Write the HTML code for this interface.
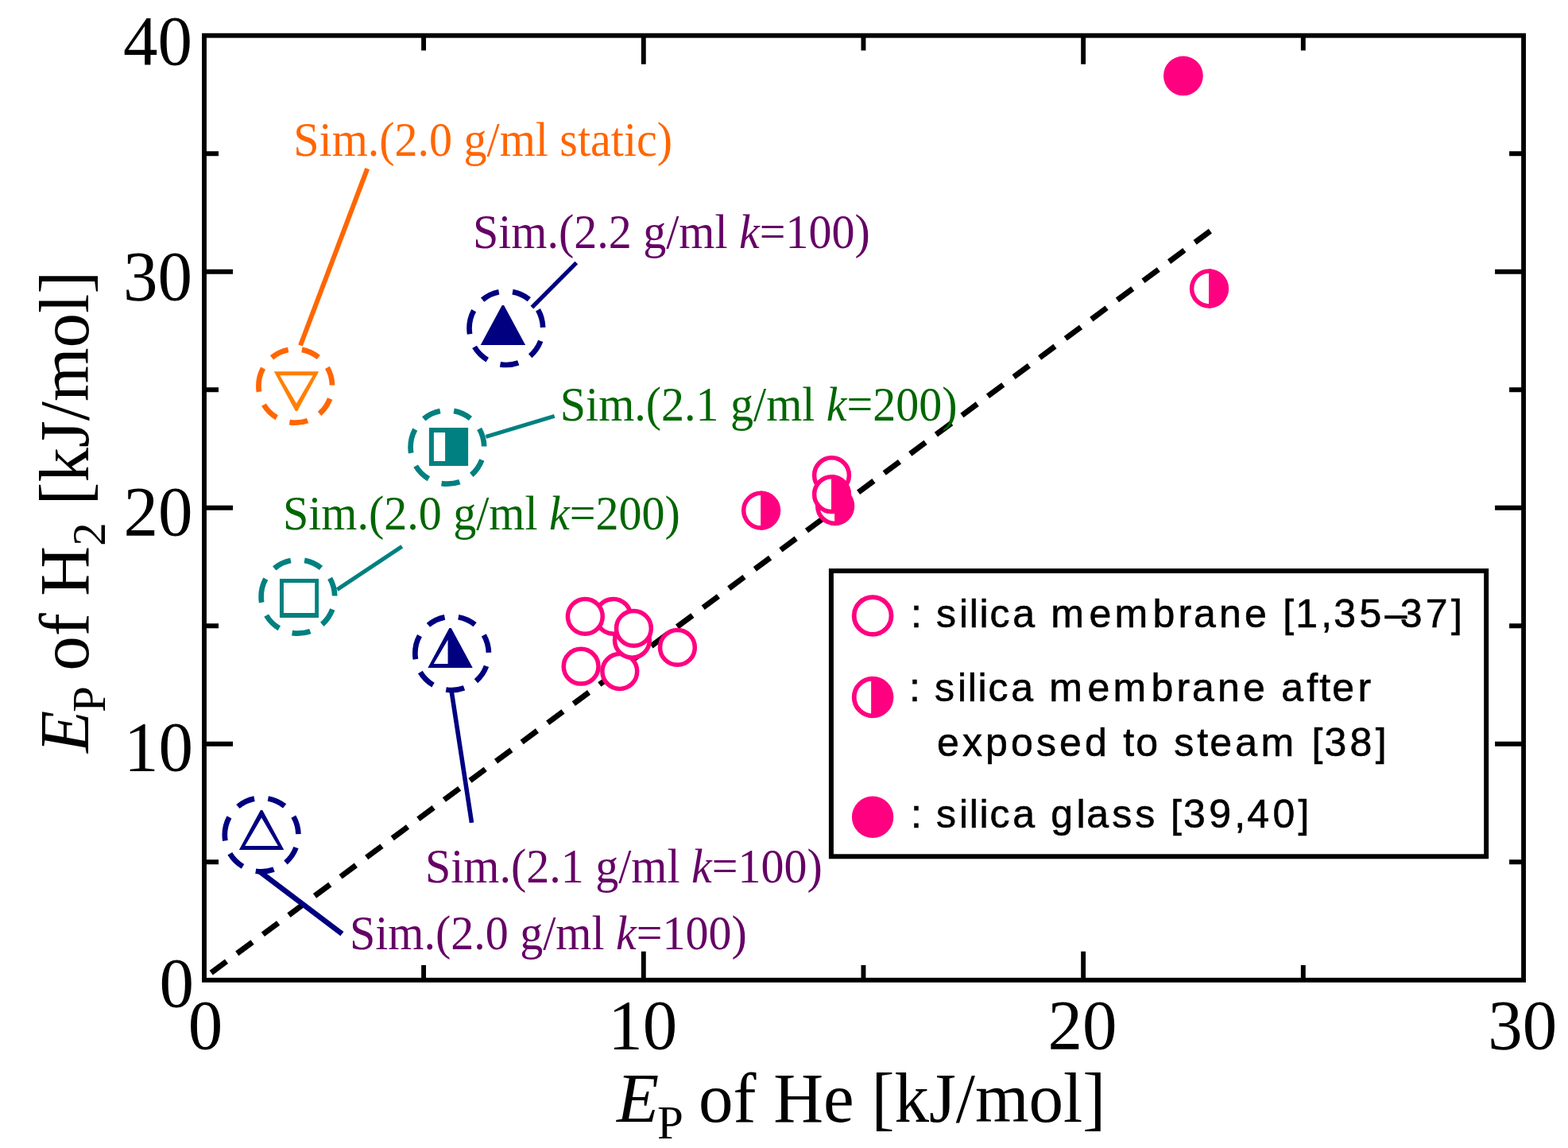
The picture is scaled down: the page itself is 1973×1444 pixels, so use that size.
<!DOCTYPE html>
<html lang="en"><head><meta charset="utf-8"><title>Ep of H2 vs Ep of He</title>
<style>
html,body{margin:0;padding:0;background:#fff;}
body{width:1973px;height:1444px;overflow:hidden;}
svg{display:block;}
text{font-family:"Liberation Serif", "Times New Roman", serif;}
.tick{font-size:87px;fill:#000;}
.sub{font-size:59px;}
.ann{font-size:58px;}
.it{font-style:italic;}
.leg{font-family:"Liberation Sans",Arial,sans-serif;font-size:50px;fill:#000;stroke:#000;stroke-width:0.6px;}
</style></head><body>
<svg width="1973" height="1444" viewBox="0 0 1973 1444">
<rect width="1973" height="1444" fill="#fff"/>
<line x1="265.7" y1="1223.6" x2="1522.9" y2="290.6" stroke="#000" stroke-width="7" stroke-dasharray="24 16.568"/>
<rect x="257.0" y="44.7" width="1660.10" height="1188.10" fill="none" stroke="#000" stroke-width="5.9"/>
<path d="M533.08 1232.8 v-18.8 M533.08 44.7 v18.8 M809.77 1232.8 v-36 M809.77 44.7 v36 M1086.45 1232.8 v-18.8 M1086.45 44.7 v18.8 M1363.13 1232.8 v-36 M1363.13 44.7 v36 M1639.82 1232.8 v-18.8 M1639.82 44.7 v18.8 M257.0 1084.29 h18 M1917.1 1084.29 h-18 M257.0 935.77 h36 M1917.1 935.77 h-36 M257.0 787.26 h18 M1917.1 787.26 h-18 M257.0 638.75 h36 M1917.1 638.75 h-36 M257.0 490.24 h18 M1917.1 490.24 h-18 M257.0 341.72 h36 M1917.1 341.72 h-36 M257.0 193.21 h18 M1917.1 193.21 h-18" stroke="#000" stroke-width="5.9" fill="none"/>
<text class="tick" transform="translate(242.00,81.00) scale(1,1.02)" text-anchor="end">40</text>
<text class="tick" transform="translate(242.00,377.10) scale(1,1.02)" text-anchor="end">30</text>
<text class="tick" transform="translate(242.50,673.20) scale(1,1.02)" text-anchor="end">20</text>
<text class="tick" transform="translate(243.00,969.30) scale(1,1.02)" text-anchor="end">10</text>
<text class="tick" transform="translate(244.10,1266.00) scale(1,1.02)" text-anchor="end">0</text>
<text class="tick" transform="translate(258.50,1318.60) scale(1,1.02)" text-anchor="middle">0</text>
<text class="tick" transform="translate(808.80,1318.60) scale(1,1.02)" text-anchor="middle">10</text>
<text class="tick" transform="translate(1361.90,1318.60) scale(1,1.02)" text-anchor="middle">20</text>
<text class="tick" transform="translate(1915.70,1318.60) scale(1,1.02)" text-anchor="middle">30</text>
<text class="tick" transform="translate(776.00,1410.60) scale(1,1.02)"><tspan class="it" x="0" y="0">E</tspan><tspan class="sub" x="51" y="20.88">P</tspan><tspan x="81.3" y="0"> of He [kJ/mol]</tspan></text>
<text class="tick" transform="translate(110.80,946.90) rotate(-90) scale(1,1.02)"><tspan class="it" x="0" y="0">E</tspan><tspan class="sub" x="51" y="20.88">P</tspan><tspan x="81.3" y="0"> of H</tspan><tspan class="sub" dy="20.88">2</tspan><tspan dy="-20.88"> [kJ/mol]</tspan></text>
<circle cx="771.7" cy="775.3" r="21.9" fill="#fff" stroke="#FF0080" stroke-width="5.5"/>
<circle cx="736.3" cy="775.4" r="21.9" fill="#fff" stroke="#FF0080" stroke-width="5.5"/>
<circle cx="779.8" cy="844.5" r="21.9" fill="#fff" stroke="#FF0080" stroke-width="5.5"/>
<circle cx="731.1" cy="838.2" r="21.9" fill="#fff" stroke="#FF0080" stroke-width="5.5"/>
<circle cx="795.4" cy="805.3" r="21.9" fill="#fff" stroke="#FF0080" stroke-width="5.5"/>
<circle cx="797.4" cy="790.4" r="21.9" fill="#fff" stroke="#FF0080" stroke-width="5.5"/>
<circle cx="852.4" cy="814.4" r="21.9" fill="#fff" stroke="#FF0080" stroke-width="5.5"/>
<circle cx="957.6" cy="642.1" r="21.9" fill="#fff" stroke="#FF0080" stroke-width="5.5"/>
<path d="M957.10 617.46 A24.65 24.65 0 0 1 957.10 666.74 Z" fill="#FF0080"/>
<circle cx="1046.5" cy="597.7" r="21.9" fill="#fff" stroke="#FF0080" stroke-width="5.5"/>
<circle cx="1050.6" cy="636.5" r="21.9" fill="#fff" stroke="#FF0080" stroke-width="5.5"/>
<path d="M1050.10 611.86 A24.65 24.65 0 0 1 1050.10 661.14 Z" fill="#FF0080"/>
<circle cx="1046.5" cy="621.7" r="21.9" fill="#fff" stroke="#FF0080" stroke-width="5.5"/>
<path d="M1046.00 597.06 A24.65 24.65 0 0 1 1046.00 646.34 Z" fill="#FF0080"/>
<circle cx="1521.5" cy="363" r="21.9" fill="#fff" stroke="#FF0080" stroke-width="5.5"/>
<path d="M1521.00 338.36 A24.65 24.65 0 0 1 1521.00 387.64 Z" fill="#FF0080"/>
<circle cx="1488.9" cy="95.4" r="24.9" fill="#FF0080"/>
<line x1="462.2" y1="212.1" x2="378.0" y2="434.5" stroke="#FF6600" stroke-width="6.0"/>
<line x1="725.3" y1="330.5" x2="669.4" y2="386.6" stroke="#000080" stroke-width="5.3"/>
<line x1="697.7" y1="523.4" x2="611.4" y2="549.4" stroke="#008080" stroke-width="5.0"/>
<line x1="505.8" y1="687.3" x2="424.2" y2="741.7" stroke="#008080" stroke-width="5.0"/>
<line x1="567.6" y1="866.0" x2="593.5" y2="1034.8" stroke="#000080" stroke-width="5.6"/>
<line x1="326.5" y1="1096.1" x2="430.4" y2="1174.6" stroke="#000080" stroke-width="6.8"/>
<path d="M325.40 485.40 A46.3 46.3 0 0 1 331.06 463.22 M342.00 449.88 A46.3 46.3 0 0 1 362.65 439.99 M379.90 439.83 A46.3 46.3 0 0 1 400.73 449.33 M411.92 462.46 A46.3 46.3 0 0 1 417.99 484.53 M415.10 501.54 A46.3 46.3 0 0 1 402.06 520.36 M387.16 529.04 A46.3 46.3 0 0 1 364.35 531.11 M348.13 525.25 A46.3 46.3 0 0 1 331.92 509.09 M326.01 492.88 A46.3 46.3 0 0 1 325.40 485.40" fill="none" stroke="#FF6600" stroke-width="6.7"/>
<path d="M516.60 562.40 A46.3 46.3 0 0 1 522.26 540.22 M533.20 526.88 A46.3 46.3 0 0 1 553.85 516.99 M571.10 516.83 A46.3 46.3 0 0 1 591.93 526.33 M603.12 539.46 A46.3 46.3 0 0 1 609.19 561.53 M606.30 578.54 A46.3 46.3 0 0 1 593.26 597.36 M578.36 606.04 A46.3 46.3 0 0 1 555.55 608.11 M539.33 602.25 A46.3 46.3 0 0 1 523.12 586.09 M517.21 569.88 A46.3 46.3 0 0 1 516.60 562.40" fill="none" stroke="#008080" stroke-width="6.7"/>
<path d="M590.50 412.70 A46.3 46.3 0 0 1 596.16 390.52 M607.10 377.18 A46.3 46.3 0 0 1 627.75 367.29 M645.00 367.13 A46.3 46.3 0 0 1 665.83 376.63 M677.02 389.76 A46.3 46.3 0 0 1 683.09 411.83 M680.20 428.84 A46.3 46.3 0 0 1 667.16 447.66 M652.26 456.34 A46.3 46.3 0 0 1 629.45 458.41 M613.23 452.55 A46.3 46.3 0 0 1 597.02 436.39 M591.11 420.18 A46.3 46.3 0 0 1 590.50 412.70" fill="none" stroke="#000080" stroke-width="6.7"/>
<path d="M328.60 750.40 A46.3 46.3 0 0 1 334.26 728.22 M345.20 714.88 A46.3 46.3 0 0 1 365.85 704.99 M383.10 704.83 A46.3 46.3 0 0 1 403.93 714.33 M415.12 727.46 A46.3 46.3 0 0 1 421.19 749.53 M418.30 766.54 A46.3 46.3 0 0 1 405.26 785.36 M390.36 794.04 A46.3 46.3 0 0 1 367.55 796.11 M351.33 790.25 A46.3 46.3 0 0 1 335.12 774.09 M329.21 757.88 A46.3 46.3 0 0 1 328.60 750.40" fill="none" stroke="#008080" stroke-width="6.7"/>
<path d="M522.30 821.80 A46.3 46.3 0 0 1 527.96 799.62 M538.90 786.28 A46.3 46.3 0 0 1 559.55 776.39 M576.80 776.23 A46.3 46.3 0 0 1 597.63 785.73 M608.82 798.86 A46.3 46.3 0 0 1 614.89 820.93 M612.00 837.94 A46.3 46.3 0 0 1 598.96 856.76 M584.06 865.44 A46.3 46.3 0 0 1 561.25 867.51 M545.03 861.65 A46.3 46.3 0 0 1 528.82 845.49 M522.91 829.28 A46.3 46.3 0 0 1 522.30 821.80" fill="none" stroke="#000080" stroke-width="6.7"/>
<path d="M282.80 1050.00 A46.3 46.3 0 0 1 288.46 1027.82 M299.40 1014.48 A46.3 46.3 0 0 1 320.05 1004.59 M337.30 1004.43 A46.3 46.3 0 0 1 358.13 1013.93 M369.32 1027.06 A46.3 46.3 0 0 1 375.39 1049.13 M372.50 1066.14 A46.3 46.3 0 0 1 359.46 1084.96 M344.56 1093.64 A46.3 46.3 0 0 1 321.75 1095.71 M305.53 1089.85 A46.3 46.3 0 0 1 289.32 1073.69 M283.41 1057.48 A46.3 46.3 0 0 1 282.80 1050.00" fill="none" stroke="#000080" stroke-width="6.7"/>
<path d="M344.75 467.20 L401.15 467.20 L374.15 517.10 L371.75 517.10 Z M352.15 472.20 L372.95 507.60 L393.75 472.20 Z" fill="#FF8000" fill-rule="evenodd"/>
<path d="M604.70 433.90 L661.10 433.90 L634.10 384.00 L631.70 384.00 Z" fill="#000080"/>
<path d="M539.9 538 H589.1 V585.9 H539.9 Z M545.9 543.9 V580 H560.1 V543.9 Z" fill="#008080" fill-rule="evenodd"/>
<path d="M351.95 728 H401 V777 H351.95 Z M356.95 733 V771.05 H396.2 V733 Z" fill="#008080" fill-rule="evenodd"/>
<path d="M538.35 840.00 L594.75 840.00 L567.75 790.10 L565.35 790.10 Z M545.75 835.00 L563.55 804.71 L563.55 835.00 Z" fill="#000080" fill-rule="evenodd"/>
<path d="M300.85 1068.94 L357.25 1068.94 L330.25 1019.04 L327.85 1019.04 Z M308.25 1063.94 L329.05 1028.54 L349.85 1063.94 Z" fill="#000080" fill-rule="evenodd"/>
<text class="ann" transform="translate(369.30,196.40) scale(1,1.05)" fill="#FF6600">Sim.(2.0 g/ml static)</text>
<text class="ann" transform="translate(595.00,311.70) scale(1,1.05)" fill="#660066">Sim.(2.2 g/ml <tspan class="it">k</tspan>=100)</text>
<text class="ann" transform="translate(704.80,528.70) scale(1,1.05)" fill="#006600">Sim.(2.1 g/ml <tspan class="it">k</tspan>=200)</text>
<text class="ann" transform="translate(356.00,666.20) scale(1,1.05)" fill="#006600">Sim.(2.0 g/ml <tspan class="it">k</tspan>=200)</text>
<text class="ann" transform="translate(535.00,1109.70) scale(1,1.05)" fill="#660066">Sim.(2.1 g/ml <tspan class="it">k</tspan>=100)</text>
<text class="ann" transform="translate(440.00,1193.50) scale(1,1.05)" fill="#660066">Sim.(2.0 g/ml <tspan class="it">k</tspan>=100)</text>
<rect x="1045.9" y="718.1" width="824.3" height="359.2" fill="#fff" stroke="#000" stroke-width="6"/>
<circle cx="1098.1" cy="774.5" r="23.4" fill="#fff" stroke="#FF0080" stroke-width="5.8"/>
<circle cx="1098.1" cy="877" r="23.4" fill="#fff" stroke="#FF0080" stroke-width="5.8"/>
<path d="M1096.10 850.78 A26.299999999999997 26.299999999999997 0 0 1 1096.10 903.22 Z" fill="#FF0080"/>
<circle cx="1098.1" cy="1027.8" r="26.2" fill="#FF0080"/>
<text class="leg" x="1146.0 1162.0 1178.1 1206.9 1219.7 1232.5 1245.4 1274.2 1306.3 1322.3 1370.4 1402.5 1450.6 1482.6 1501.9 1534.0 1566.0 1598.1 1614.2 1630.2 1662.3 1678.3 1710.4 1742.5 1761.7 1793.8 1825.9" y="789.1">: silica membrane [1,35–37]</text>
<text class="leg" x="1144.0 1160.0 1176.1 1204.9 1217.7 1230.5 1243.4 1272.2 1304.3 1320.3 1368.4 1400.5 1448.6 1480.6 1499.9 1532.0 1564.0 1596.1 1612.2 1644.3 1660.3 1676.3 1708.4" y="882.0">: silica membrane after</text>
<text class="leg" x="1179.0 1211.1 1239.9 1272.0 1304.1 1333.0 1365.1 1397.1 1413.2 1429.2 1461.3 1477.3 1506.2 1522.2 1554.3 1586.4 1634.5 1650.5 1666.5 1698.6 1730.7" y="951.4">exposed to steam [38]</text>
<text class="leg" x="1146.0 1162.0 1178.1 1206.9 1219.7 1232.5 1245.4 1274.2 1306.3 1322.3 1354.4 1367.2 1399.3 1428.2 1457.0 1473.1 1489.1 1521.2 1553.3 1569.3 1601.4 1633.5" y="1041.0">: silica glass [39,40]</text>
</svg></body></html>
